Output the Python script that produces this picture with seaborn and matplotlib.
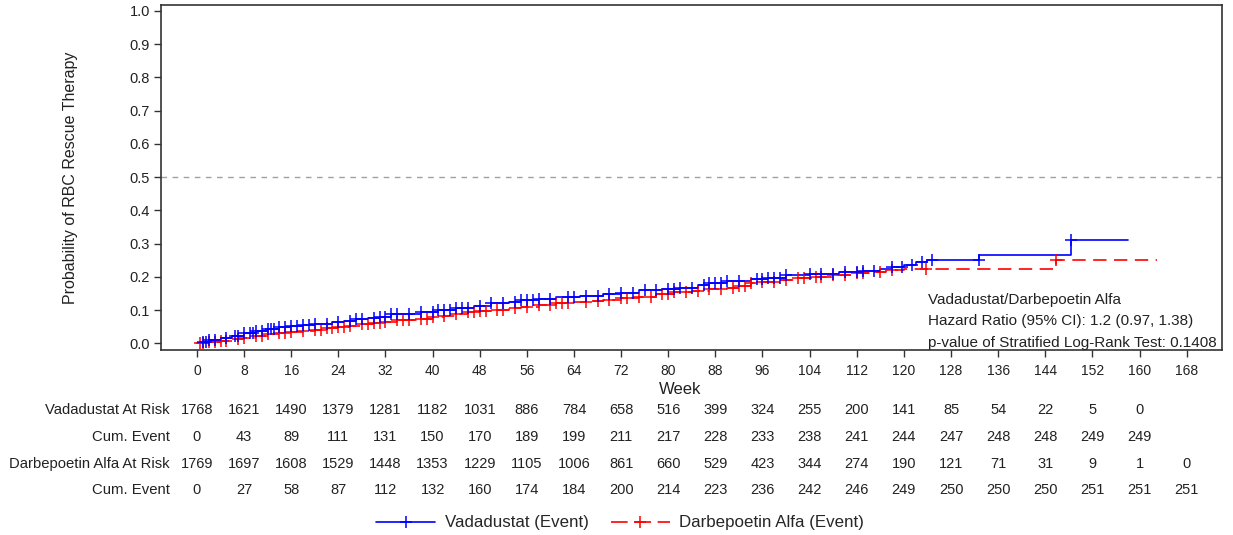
import numpy as np
import pandas as pd
import matplotlib
matplotlib.use("Agg")
import matplotlib.pyplot as plt
import matplotlib.transforms as mtransforms
from matplotlib.lines import Line2D
import seaborn as sns

# Kaplan-Meier style cumulative incidence (step times in weeks, probability after step)
vada_times = [0, 1, 2, 4, 6, 8, 10, 12, 14, 16, 18, 20, 23, 25, 27, 29, 31, 33, 35, 38,
              41, 44, 47, 50, 53, 55, 58, 61, 65, 69, 72, 75, 79, 82, 85, 87, 90, 94, 97,
              100, 104, 109, 113, 116, 118, 120, 122, 124, 132.8, 148.4, 158]
vada_prob = [0.0, 0.005, 0.009, 0.015, 0.022, 0.030, 0.036, 0.042, 0.049, 0.053, 0.056,
             0.059, 0.064, 0.068, 0.072, 0.076, 0.079, 0.087, 0.089, 0.094, 0.100, 0.107,
             0.113, 0.120, 0.125, 0.130, 0.134, 0.139, 0.143, 0.148, 0.153, 0.160, 0.164,
             0.168, 0.176, 0.182, 0.189, 0.194, 0.198, 0.207, 0.210, 0.214, 0.218, 0.224,
             0.230, 0.237, 0.244, 0.252, 0.265, 0.310, 0.310]

darb_times = [0, 2, 4, 6, 8, 10, 12, 14, 16, 18, 20, 22, 24, 26, 28, 30, 32, 34, 36, 38,
              40, 42, 44, 46, 48, 50, 53, 55, 58, 61, 64, 67, 69, 72, 75, 78, 81, 84, 87,
              90, 92, 94, 96, 99, 102, 105, 108, 111, 114, 117, 120, 145.9, 163]
darb_prob = [0.0, 0.004, 0.008, 0.012, 0.016, 0.021, 0.027, 0.031, 0.035, 0.038, 0.041,
             0.045, 0.049, 0.053, 0.057, 0.060, 0.065, 0.069, 0.071, 0.074, 0.078, 0.083,
             0.088, 0.093, 0.097, 0.100, 0.105, 0.109, 0.115, 0.120, 0.124, 0.128, 0.131,
             0.135, 0.140, 0.147, 0.154, 0.159, 0.163, 0.168, 0.174, 0.182, 0.186, 0.191,
             0.198, 0.201, 0.207, 0.212, 0.216, 0.220, 0.223, 0.252, 0.252]

# Censoring times (weeks)
vada_censor = [1, 1.5, 2, 3, 5, 6.5, 7, 8, 9, 9.5, 10, 11, 12, 12.5, 13, 14, 15, 16, 17,
               18, 19, 20, 22, 24, 26, 27, 28, 30, 31, 32, 33, 34, 36, 38, 40, 41, 42, 43,
               44, 45, 46, 48, 50, 52, 54, 55, 56, 57, 58, 60, 63, 64, 66, 68, 70, 72, 74,
               76, 78, 80, 81, 82, 84, 86, 87, 88, 89, 90, 92, 95, 96, 97, 98, 99, 100,
               104, 106, 108, 110, 112, 113, 115, 118, 119.6, 121.4, 123.1, 124.8, 132.7,
               148.4]
darb_censor = [0.5, 1, 2, 3, 4, 5, 7, 8, 10, 11, 12, 14, 15, 16, 18, 20, 21, 22, 23, 24,
               25, 26, 28, 29, 30, 31, 32, 34, 35, 36, 38, 39, 40, 42, 44, 46, 47, 48, 49,
               51, 52, 54, 56, 58, 60, 61, 62, 63, 66, 68, 70, 72, 73, 75, 77, 79, 80, 81,
               83, 85, 87, 89, 91, 92, 93, 94, 96, 98, 100, 102, 103, 105, 106, 108, 110,
               112, 113, 116, 118, 123.8, 145.9]

# Risk table
table_weeks = [0, 8, 16, 24, 32, 40, 48, 56, 64, 72, 80, 88, 96, 104, 112, 120, 128, 136,
               144, 152, 160, 168]
vada_at_risk = [1768, 1621, 1490, 1379, 1281, 1182, 1031, 886, 784, 658, 516, 399, 324,
                255, 200, 141, 85, 54, 22, 5, 0]
vada_cum_event = [0, 43, 89, 111, 131, 150, 170, 189, 199, 211, 217, 228, 233, 238, 241,
                  244, 247, 248, 248, 249, 249]
darb_at_risk = [1769, 1697, 1608, 1529, 1448, 1353, 1229, 1105, 1006, 861, 660, 529, 423,
                344, 274, 190, 121, 71, 31, 9, 1, 0]
darb_cum_event = [0, 27, 58, 87, 112, 132, 160, 174, 184, 200, 214, 223, 236, 242, 246,
                  249, 250, 250, 250, 251, 251, 251]

y_ticks = [0.0, 0.1, 0.2, 0.3, 0.4, 0.5, 0.6, 0.7, 0.8, 0.9, 1.0]

BLUE = "#0000ff"
RED = "#ff0000"
TXT = "#222222"

sns.set_theme(style="white")
plt.rcParams["font.family"] = ["Liberation Sans", "DejaVu Sans"]

W, H = 1233, 535
fig = plt.figure(figsize=(W / 100, H / 100), dpi=100)
ax = fig.add_axes([161 / W, 1 - 350 / H, (1222 - 161) / W, (350 - 5) / H])

vada_df = pd.DataFrame({"week": vada_times, "prob": vada_prob})
darb_df = pd.DataFrame({"week": darb_times, "prob": darb_prob})

sns.lineplot(data=vada_df, x="week", y="prob", ax=ax, color=BLUE, lw=1.2,
             drawstyle="steps-post", estimator=None, sort=False)
sns.lineplot(data=darb_df, x="week", y="prob", ax=ax, color=RED, lw=1.2,
             drawstyle="steps-post", estimator=None, sort=False,
             linestyle=(0, (8, 4.5)))


def step_value(times, probs, t):
    idx = np.searchsorted(times, t, side="right") - 1
    return probs[max(idx, 0)]


vada_cdf = pd.DataFrame({"week": vada_censor,
                         "prob": [step_value(vada_times, vada_prob, t) for t in vada_censor]})
darb_cdf = pd.DataFrame({"week": darb_censor,
                         "prob": [step_value(darb_times, darb_prob, t) for t in darb_censor]})
sns.scatterplot(data=darb_cdf, x="week", y="prob", ax=ax, marker="+", color=RED,
                s=70, linewidth=1.1, zorder=3)
sns.scatterplot(data=vada_cdf, x="week", y="prob", ax=ax, marker="+", color=BLUE,
                s=70, linewidth=1.1, zorder=4)

ax.axhline(0.5, color="#a0a0a0", lw=1.0, linestyle=(0, (4, 4)), zorder=1)

ax.set_xlim(-6.1, 174)
ax.set_ylim(-0.02, 1.018)
ax.set_xticks(table_weeks)
ax.set_xticklabels([str(w) for w in table_weeks], fontsize=10)
ax.set_yticks(y_ticks)
ax.set_yticklabels([f"{v:.1f}" for v in y_ticks], fontsize=10.5)
ax.tick_params(axis="both", direction="out", length=5, width=1, color="#333333",
               labelcolor=TXT, bottom=True, left=True, pad=3)
ax.tick_params(axis="x", pad=5)
for sp in ax.spines.values():
    sp.set_color("#333333")
    sp.set_linewidth(1.2)
ax.set_xlabel("")
ax.set_ylabel("Probability of RBC Rescue Therapy", fontsize=11.5, color=TXT,
              labelpad=37)

fig.text(ax.transData.transform((82, 0))[0] / W, 1 - 389 / H, "Week", fontsize=12,
         ha="center", va="center", color=TXT)

ax.text(928 / W, 1 - 300 / H, "Vadadustat/Darbepoetin Alfa", transform=fig.transFigure,
        fontsize=11, ha="left", va="center", color=TXT)
ax.text(928 / W, 1 - 321 / H, "Hazard Ratio (95% CI): 1.2 (0.97, 1.38)",
        transform=fig.transFigure, fontsize=11, ha="left", va="center", color=TXT)
ax.text(928 / W, 1 - 343 / H, "p-value of Stratified Log-Rank Test: 0.1408",
        transform=fig.transFigure, fontsize=11, ha="left", va="center", color=TXT)

# Risk table below the plot
blend = mtransforms.blended_transform_factory(ax.transData, fig.transFigure)
rows = [("Vadadustat At Risk", vada_at_risk, 410),
        ("Cum. Event", vada_cum_event, 437),
        ("Darbepoetin Alfa At Risk", darb_at_risk, 464),
        ("Cum. Event", darb_cum_event, 490)]
for label, values, ypx in rows:
    fig.text(170 / W, 1 - ypx / H, label, fontsize=10.7, ha="right", va="center",
             color=TXT)
    for wk, val in zip(table_weeks, values):
        ax.text(wk, 1 - ypx / H, str(val), transform=blend, fontsize=10.5, ha="center",
                va="center", color=TXT, clip_on=False)

handles = [Line2D([], [], color=BLUE, lw=1.2, marker="+", markersize=9, mew=1.1),
           Line2D([], [], color=RED, lw=1.2, marker="+", markersize=9, mew=1.1,
                  linestyle=(0, (10, 4)))]
fig.legend(handles, ["Vadadustat (Event)", "Darbepoetin Alfa (Event)"],
           loc="center", bbox_to_anchor=(620 / W, 1 - 523 / H), ncol=2, frameon=False,
           fontsize=12.2, handlelength=3.5, columnspacing=1.3, handletextpad=0.55)

fig.savefig("out.png", dpi=100)
